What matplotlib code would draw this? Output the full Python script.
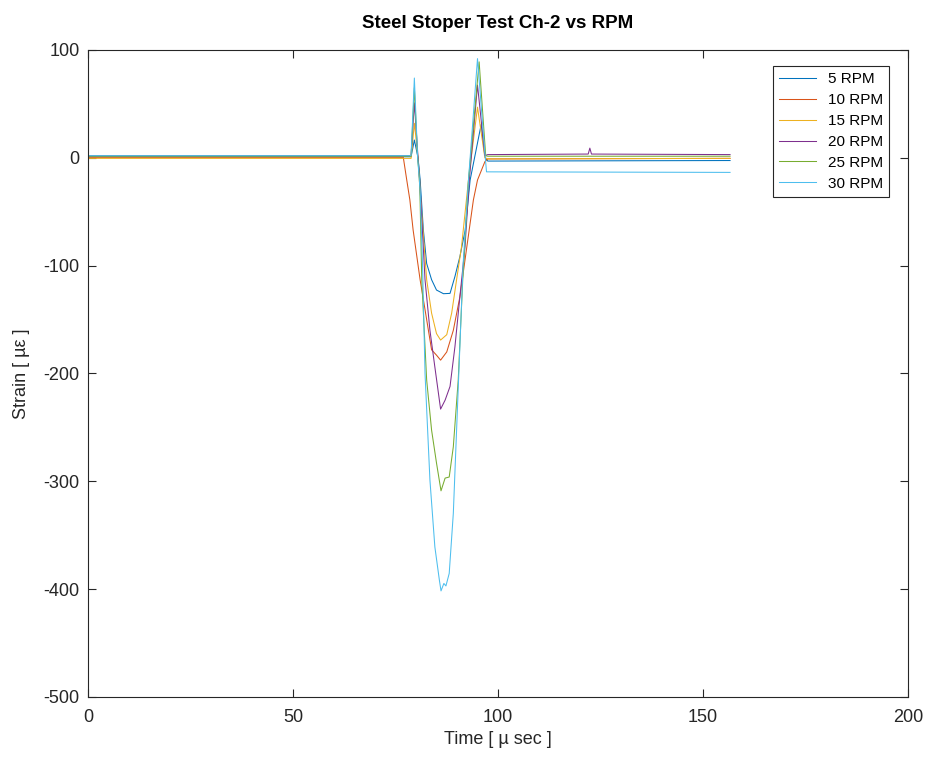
import matplotlib
matplotlib.use("Agg")
import matplotlib.pyplot as plt

plt.rcParams['font.family'] = ['Liberation Sans', 'DejaVu Sans']
plt.rcParams['axes.unicode_minus'] = False

# key points (time in us, strain in ue)
t_5 = [0, 78.8, 79.6, 80.5, 81.0, 81.8, 82.6, 83.8, 85.0, 86.7, 88.3, 89.5, 90.7, 92.0, 93.2, 95.9, 96.8, 97.5, 156.6]
s_5 = [1, 1, 16.5, 0, -20, -67, -98, -113, -122.6, -126, -125.7, -110, -91.7, -67, -20.6, 31, 1, -3, -2.5]

t_10 = [0, 76.9, 77.7, 78.5, 79.3, 81.0, 82.6, 83.8, 85.0, 86.0, 87.5, 89.1, 90.7, 92.4, 94.0, 95.0, 96.8, 97.5, 156.6]
s_10 = [0.5, 0.5, -19.5, -39, -67, -113, -150, -178, -183, -187.6, -180, -160, -129, -82.5, -39, -20.6, -3.6, -1, -0.5]

t_15 = [0, 78.8, 79.6, 80.5, 80.8, 82.6, 83.8, 85.0, 86.0, 87.5, 88.7, 89.9, 91.1, 92.8, 95.0, 96.8, 97.5, 156.6]
s_15 = [-0.5, -0.5, 32, 0, -20.6, -113, -144, -163, -169, -164, -144, -113, -82.5, -20.6, 47, 0, -1, -0.5]

t_20 = [0, 78.8, 79.6, 80.5, 80.9, 82.2, 83.4, 84.6, 85.7, 86.0, 87.1, 88.3, 89.5, 90.7, 91.95, 93.0, 95.0, 96.8, 97.5,
        122.0, 122.4, 122.8, 156.6]
s_20 = [2, 2, 51, 0, -20.6, -113, -160, -194, -224.7, -233, -224.7, -212, -175, -129, -82.5, -20.6, 67.5, 2, 3,
        3.5, 9, 3.5, 3]

t_25 = [0, 78.8, 79.6, 80.4, 80.9, 81.4, 82.6, 83.8, 85.0, 86.1, 87.1, 88.1, 89.1, 90.3, 91.4, 92.8, 95.4, 97.0, 97.5, 156.6]
s_25 = [1.5, 1.5, 65, 0, -20.6, -113, -206, -252.5, -283, -308.8, -297, -296, -268, -206, -113, -20.6, 89, 2, 1.5, 1.5]

t_30 = [0, 78.8, 79.6, 80.4, 81.0, 81.6, 82.2, 83.4, 84.6, 85.7, 86.1, 86.8, 87.3, 88.1, 89.1, 89.9, 90.7, 91.5, 92.8,
        95.0, 96.8, 97.2, 156.6]
s_30 = [2, 2, 74, 0, -30, -100, -200, -299, -360.8, -391.6, -401.6, -394.7, -397, -385.4, -329.8, -252.5, -175, -98, -20.6,
        92, 4.5, -13, -13.5]

labels = ['5 RPM', '10 RPM', '15 RPM', '20 RPM', '25 RPM', '30 RPM']
colors = ['#0072BD', '#D95319', '#EDB120', '#7E2F8E', '#77AC30', '#4DBEEE']
x_ticks = [0, 50, 100, 150, 200]
y_ticks = [-500, -400, -300, -200, -100, 0, 100]

series = [(t_5, s_5), (t_10, s_10), (t_15, s_15), (t_20, s_20), (t_25, s_25), (t_30, s_30)]

fig = plt.figure(figsize=(9.29, 7.62), dpi=100)
ax = fig.add_axes([88 / 929, 1 - 697 / 762, 820 / 929, 647 / 762])

for (t, s), lab, c in zip(series, labels, colors):
    ax.plot(t, s, color=c, lw=0.75, label=lab)

ax.set_xlim(0, 200)
ax.set_ylim(-500, 100)
ax.set_xticks(x_ticks)
ax.set_yticks(y_ticks)
ax.tick_params(direction='in', length=6, width=0.8, top=True, right=True,
               labelsize=13, colors='#262626')
ax.tick_params(axis='y', pad=6)
ax.tick_params(axis='x', pad=9)
for sp in ax.spines.values():
    sp.set_color('#262626')
    sp.set_linewidth(0.8)

ax.set_xlabel('Time [ µ sec ]', fontsize=13, color='#262626', labelpad=3)
ax.set_ylabel('Strain [ µε ]', fontsize=13, color='#262626', labelpad=10)
ax.set_title('Steel Stoper Test Ch-2 vs RPM', fontsize=13.5, fontweight='bold', pad=16)

leg = ax.legend(loc='upper right', bbox_to_anchor=(0.977, 0.975), borderaxespad=0,
                fancybox=False, fontsize=11, handlelength=2.4, labelspacing=0.45,
                framealpha=1)
leg.get_frame().set_edgecolor('#262626')
leg.get_frame().set_linewidth(0.8)

fig.savefig('out.png', dpi=100)
